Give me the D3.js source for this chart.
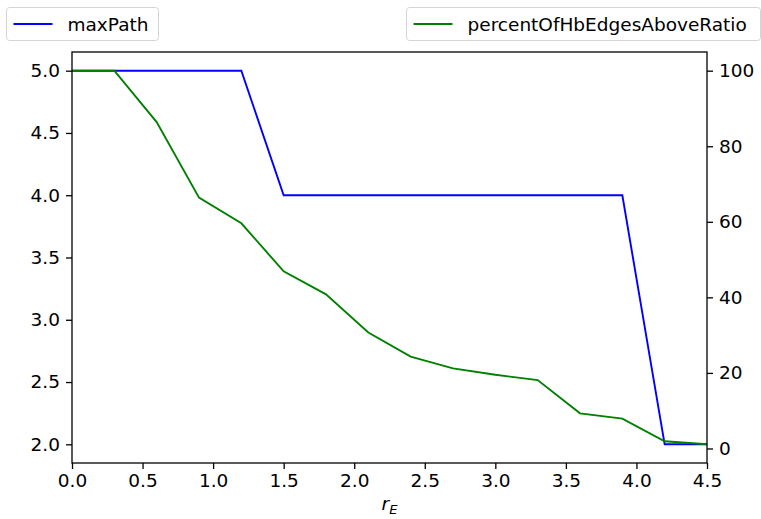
<!DOCTYPE html>
<html>
<head>
<meta charset="utf-8">
<script src="https://cdn.jsdelivr.net/npm/d3@7"></script>
<style>
  html, body { margin: 0; padding: 0; background: #fff; }
  svg { display: block; font-family: "DejaVu Sans", sans-serif; }
</style>
</head>
<body>
<svg id="chart" width="761" height="519"></svg>
<script>
// r_E sample points
const rE = [0, 0.3, 0.6, 0.9, 1.2, 1.5, 1.8, 2.1, 2.4, 2.7, 3.0, 3.3, 3.6, 3.9, 4.2, 4.5];
// longest path length (left axis)
const maxPath = [5, 5, 5, 5, 5, 4, 4, 4, 4, 4, 4, 4, 4, 4, 2, 2];
// share of H-bond edges above the ratio, in percent (right axis)
const percentOfHbEdgesAboveRatio = [100, 100, 86.4, 66.4, 59.6, 46.9, 40.8, 30.7, 24.3, 21.2, 19.5, 18.1, 9.3, 7.9, 1.9, 1.1];

const xTicks = [0, 0.5, 1, 1.5, 2, 2.5, 3, 3.5, 4, 4.5];
const leftTicks = [2.0, 2.5, 3.0, 3.5, 4.0, 4.5, 5.0];
const rightTicks = [0, 20, 40, 60, 80, 100];

const svg = d3.select("#chart");
const plot = { left: 72, right: 707, top: 52, bottom: 463 };
const fontSize = 18.5;

// matplotlib-style 5% padding around the data range
function padded(values) {
  const lo = d3.min(values), hi = d3.max(values), m = (hi - lo) * 0.05;
  return [lo - m, hi + m];
}

const x = d3.scaleLinear().domain([0, 4.5]).range([plot.left, plot.right]);
const yL = d3.scaleLinear().domain(padded(maxPath)).range([plot.bottom, plot.top]);
const yR = d3.scaleLinear().domain(padded(percentOfHbEdgesAboveRatio)).range([plot.bottom, plot.top]);

function styleAxis(g) {
  g.select(".domain").remove();
  g.selectAll(".tick line").attr("stroke", "#000").attr("stroke-width", 1.3);
  g.selectAll(".tick text").attr("fill", "#000").style("font-size", fontSize + "px")
    .style("font-family", "'DejaVu Sans', sans-serif");
}

svg.append("g").attr("transform", `translate(0,${plot.bottom})`)
  .call(d3.axisBottom(x).tickValues(xTicks).tickFormat(d3.format(".1f")).tickSize(6).tickPadding(5))
  .call(styleAxis);

svg.append("g").attr("transform", `translate(${plot.left},0)`)
  .call(d3.axisLeft(yL).tickValues(leftTicks).tickFormat(d3.format(".1f")).tickSize(6).tickPadding(6))
  .call(styleAxis);

svg.append("g").attr("transform", `translate(${plot.right},0)`)
  .call(d3.axisRight(yR).tickValues(rightTicks).tickFormat(d3.format("d")).tickSize(6).tickPadding(6))
  .call(styleAxis);

// data lines
const lineL = d3.line().x((d, i) => x(rE[i])).y(d => yL(d));
const lineR = d3.line().x((d, i) => x(rE[i])).y(d => yR(d));

svg.append("path").datum(maxPath).attr("d", lineL)
  .attr("fill", "none").attr("stroke", "#0000ff").attr("stroke-width", 1.9);
svg.append("path").datum(percentOfHbEdgesAboveRatio).attr("d", lineR)
  .attr("fill", "none").attr("stroke", "#008000").attr("stroke-width", 1.9);

// axes frame
svg.append("rect")
  .attr("x", plot.left).attr("y", plot.top)
  .attr("width", plot.right - plot.left).attr("height", plot.bottom - plot.top)
  .attr("fill", "none").attr("stroke", "#000").attr("stroke-width", 1.3);

// x label: r with subscript E
const xl = svg.append("text")
  .attr("x", (plot.left + plot.right) / 2).attr("y", 510)
  .attr("text-anchor", "middle").style("font-size", fontSize + "px");
xl.append("tspan").style("font-style", "italic").text("r");
xl.append("tspan").attr("dy", 4).style("font-style", "italic").style("font-size", "13px").text("E");

// legends
function legend(x0, y0, w, color, label) {
  const g = svg.append("g");
  g.append("rect").attr("x", x0).attr("y", y0).attr("width", w).attr("height", 33)
    .attr("rx", 3).attr("fill", "#fff").attr("fill-opacity", 0.8)
    .attr("stroke", "#d5d5d5").attr("stroke-width", 1);
  g.append("line").attr("x1", x0 + 7).attr("x2", x0 + 46)
    .attr("y1", y0 + 16.5).attr("y2", y0 + 16.5)
    .attr("stroke", color).attr("stroke-width", 1.9);
  g.append("text").attr("x", x0 + 61).attr("y", y0 + 23)
    .style("font-size", fontSize + "px").attr("fill", "#000").text(label);
}
legend(6.5, 7.5, 152, "#0000ff", "maxPath");
legend(406.5, 7.5, 354, "#008000", "percentOfHbEdgesAboveRatio");
</script>
</body>
</html>
